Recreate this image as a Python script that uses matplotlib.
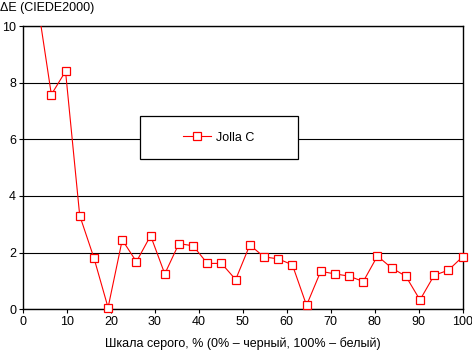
import matplotlib
matplotlib.use("Agg")
import matplotlib.pyplot as plt
import numpy as np
from matplotlib.patches import Rectangle

plt.rcParams['font.family'] = ['Liberation Sans', 'DejaVu Sans']

# grey levels 0..100 in 32 steps
gray = [i * 100 / 31 for i in range(32)]
# dE values (first two go above the top)
de = [12.5, 10.9, 7.58, 8.40, 3.31, 1.82, 0.06, 2.45, 1.68, 2.60, 1.25, 2.32,
      2.24, 1.62, 1.62, 1.05, 2.27, 1.85, 1.78, 1.57, 0.14, 1.34, 1.25, 1.17,
      0.98, 1.88, 1.46, 1.17, 0.33, 1.20, 1.38, 1.85]
yticks = [0, 2, 4, 6, 8, 10]
xticks = [0, 10, 20, 30, 40, 50, 60, 70, 80, 90, 100]

fig = plt.figure(figsize=(4.72, 3.52), dpi=100)
ax = fig.add_axes([23 / 472, 1 - 309.3 / 352, 439.5 / 472, 283.3 / 352])

ax.plot(gray, de, color='red', lw=0.8, zorder=3)
# markers not clipped at the frame, only the ones inside the range
inside = np.ma.masked_greater(np.array(de), 10)
ax.plot(gray, inside, ls='none', marker='s', ms=5.2, mfc='white',
        mec='red', mew=0.9, zorder=3, clip_on=False)
# proxy for the legend
ax.plot([], [], color='red', lw=0.8, marker='s', ms=5.2, mfc='white',
        mec='red', mew=0.9, label='Jolla C')

ax.set_xlim(0, 100)
ax.set_ylim(0, 10)
ax.set_xticks(xticks)
ax.set_yticks(yticks)
ax.tick_params(labelsize=9, length=3, width=0.8, color='black', pad=2)
ax.yaxis.grid(True, color='black', lw=0.8)
ax.set_axisbelow(True)
for s in ax.spines.values():
    s.set_linewidth(1.0)

# legend box
ax.add_patch(Rectangle((0.266, 0.530), 0.359, 0.152, transform=ax.transAxes,
                       facecolor='white', edgecolor='black', lw=0.9, zorder=4))
leg = ax.legend(loc='center', bbox_to_anchor=(0.4455, 0.606), frameon=False,
                fontsize=9, handlelength=2.2, handletextpad=0.4)
leg.set_zorder(5)

fig.text(0.0, 1 - 2 / 352, 'ΔE (CIEDE2000)', ha='left', va='top', fontsize=9)
fig.text(243 / 472, 1 - 344 / 352, 'Шкала серого, % (0% – черный, 100% – белый)',
         ha='center', va='center', fontsize=9)

fig.savefig('out.png', dpi=100)
